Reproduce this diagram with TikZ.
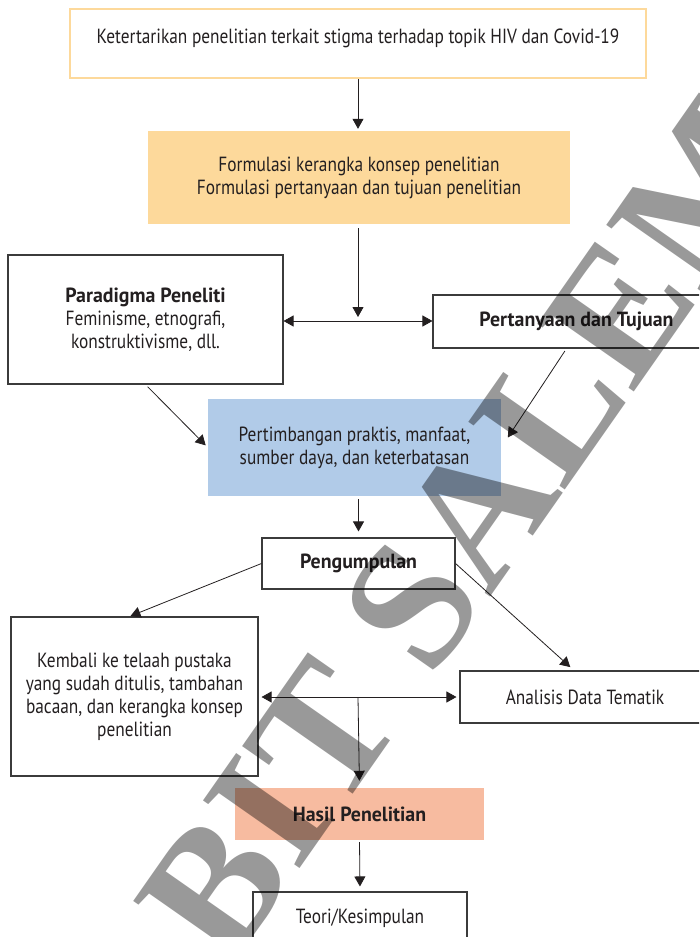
\documentclass[tikz,border=0pt]{standalone}
\usepackage{fontspec}
\setmainfont{PT Sans}[FakeStretch=0.845]
\newfontfamily\headfont{PT Sans}[FakeStretch=0.97]
\newfontfamily\markfont{Liberation Serif}
\usetikzlibrary{arrows.meta}

\definecolor{ink}{HTML}{231F20}
\definecolor{edge}{HTML}{3B3B3B}
\definecolor{peach}{HTML}{FDD99B}
\definecolor{sky}{HTML}{B1CBE8}
\definecolor{salmon}{HTML}{F7BBA0}

\newcommand{\heading}[1]{{\headfont\bfseries #1}}

\tikzset{
  txt/.style={font=\fontsize{20.5}{23}\selectfont, text=ink, align=center, inner sep=0pt},
  box/.style={txt, draw=edge, line width=1.1pt, fill=white},
  plainbox/.style={txt, draw=none},
  arr/.style={draw=ink, line width=0.8pt, -{Triangle[length=10pt,width=11pt]}},
  arrboth/.style={draw=ink, line width=0.8pt,
    {Triangle[length=10pt,width=11pt]}-{Triangle[length=10pt,width=11pt]}},
  wmtext/.style={font=\markfont\bfseries\fontsize{180}{180}\selectfont,
    text=black, text opacity=0.4, inner sep=0pt}
}

\begin{document}
\begin{tikzpicture}[x=1pt, y=-1pt]
\useasboundingbox (0,0) rectangle (699,937);
\begin{scope}
\clip (0,0) rectangle (699,937);
\fill[white] (0,0) rectangle (699,937);

% boxes
\node[plainbox, draw=peach, line width=2pt, fill=white,
      minimum width=576pt, minimum height=69pt] (topic) at (358,43.5) {};
\node[txt] (topiclabel) at (358,38)
  {Ketertarikan penelitian terkait stigma terhadap topik HIV dan Covid-19};

\node[plainbox, fill=peach, minimum width=422pt, minimum height=93pt] (frame) at (359,177.5)
  {Formulasi kerangka konsep penelitian\\Formulasi pertanyaan dan tujuan penelitian};

\node[box, minimum width=275pt, minimum height=129pt] (para) at (145.5,319.5)
  {\heading{Paradigma Peneliti}\\Feminisme, etnografi,\\konstruktivisme, dll.};

\node[box, minimum width=287pt, minimum height=53pt] (quest) at (576.5,321.5)
  {\heading{Pertanyaan dan Tujuan}};

\node[plainbox, fill=sky, minimum width=293pt, minimum height=97pt] (consid) at (354.5,447.5)
  {Pertimbangan praktis, manfaat,\\sumber daya, dan keterbatasan};

\node[box, minimum width=193pt, minimum height=51pt] (collect) at (358.5,563.5)
  {\heading{Pengumpulan}};

\node[box, minimum width=247pt, minimum height=159pt] (review) at (134.5,696.5)
  {Kembali ke telaah pustaka\\yang sudah ditulis, tambahan\\bacaan, dan kerangka konsep\\penelitian};

\node[box, minimum width=250pt, minimum height=52pt] (analysis) at (585,697)
  {Analisis Data Tematik};

\node[plainbox, fill=salmon, minimum width=249pt, minimum height=52pt] (result) at (359.5,814)
  {\heading{Hasil Penelitian}};

\node[box, minimum width=214pt, minimum height=52pt] (theory) at (360,918)
  {Teori/Kesimpulan};

% junctions of the two-way links
\coordinate (j1) at (358,321);
\coordinate (j2) at (358,697);

% connectors
\draw[arr, shorten >=2pt] (topic.south) -- (frame.north -| topic.south);
\draw[arr, shorten <=4pt, shorten >=4pt] (frame.south -| j1) -- (j1);
\draw[arrboth] (para.east |- j1) -- (quest.west |- j1);
\draw[arr, shorten <=3pt, shorten >=3pt] (para.south) -- (consid.west);
\draw[arr, shorten <=3pt, shorten >=12pt] ([xshift=-10pt]quest.south) -- (consid.east);
\draw[arr, shorten <=3pt, shorten >=6pt] (consid.south -| collect.north) -- (collect.north);
\draw[arr, shorten >=1pt] (collect.west) -- ([xshift=-5pt]review.north);
\draw[arr, shorten >=5pt] (collect.east) -- ([xshift=-11pt]analysis.north);
\draw[arrboth, shorten <=3pt, shorten >=3pt] (review.east |- j2) -- (analysis.west |- j2);
\draw[arr, shorten >=7pt] (j2) -- (result.north);
\draw[arr, shorten <=2pt, shorten >=5pt] (result.south) -- (theory.north);

% publisher watermark across the page
\node[wmtext, rotate=55, anchor=base west] (wm) at (228,972) {BIT SALEMBA};
\end{scope}
\end{tikzpicture}
\end{document}
